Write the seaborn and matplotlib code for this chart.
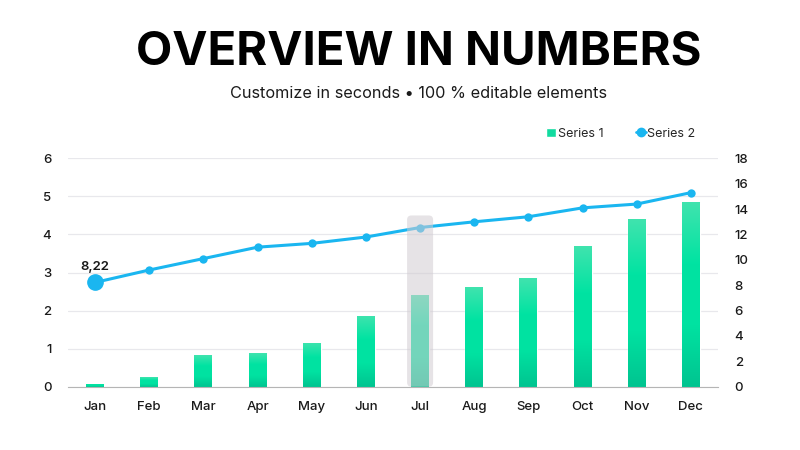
import numpy as np
import pandas as pd
import seaborn as sns
import matplotlib.pyplot as plt
from matplotlib.patches import FancyBboxPatch, Patch
from matplotlib.lines import Line2D
from matplotlib.colors import LinearSegmentedColormap

months = ["Jan", "Feb", "Mar", "Apr", "May", "Jun",
          "Jul", "Aug", "Sep", "Oct", "Nov", "Dec"]
series1 = [0.08, 0.25, 0.82, 0.89, 1.16, 1.87, 2.42, 2.61, 2.86, 3.69, 4.40, 4.85]
series2 = [8.22, 9.2, 10.1, 11.0, 11.3, 11.8, 12.55, 13.0, 13.4, 14.1, 14.4, 15.3]
left_ticks = [0, 1, 2, 3, 4, 5, 6]
right_ticks = [0, 2, 4, 6, 8, 10, 12, 14, 16, 18]
highlight = "Jul"

sns.set_style("white")
plt.rcParams['font.family'] = ['Inter', 'DejaVu Sans']

green = "#12dba0"
blue = "#1ab6f0"
txt = "#1a1a1a"

fig = plt.figure(figsize=(8, 4.5), dpi=100)
ax = fig.add_axes([0.085, 0.1407, 0.8125, 0.5073])

df = pd.DataFrame({"month": months, "s1": series1, "s2": series2})
sns.barplot(data=df, x="month", y="s1", color=green, width=0.33,
            saturation=1, ax=ax, zorder=2)

# vertical gradient inside each bar
grad = np.linspace(0, 1, 256).reshape(-1, 1)
cmap = LinearSegmentedColormap.from_list("g", ["#00c490", "#00e2a1", "#00e3a2", "#40e4ae"])
for p in ax.patches:
    x0, y0 = p.get_x(), p.get_y()
    w, h = p.get_width(), p.get_height()
    im = ax.imshow(grad, cmap=cmap, origin="lower", aspect="auto",
                   extent=[x0, x0 + w, y0, y0 + h], zorder=2.1)
    im.set_clip_path(p)
ax.set_xlim(-0.5, 11.5)
ax.set_ylim(0, 6)
ax.set_yticks(left_ticks)
ax.yaxis.grid(True, color="#e8e8ec", linewidth=0.9, zorder=0)
ax.set_axisbelow(True)
ax.set_xlabel("")
ax.set_ylabel("")
for s in ["top", "right", "left"]:
    ax.spines[s].set_visible(False)
ax.spines["bottom"].set_color("#b5b5b5")
ax.set_xticks(np.arange(12))
ax.set_xticklabels(months)
ax.set_xticks(np.arange(-0.5, 12, 1), minor=True)
ax.tick_params(axis="x", which="major", length=0, pad=10, labelsize=9.5, labelcolor=txt)
ax.tick_params(axis="x", which="minor", length=4, color="#b5b5b5", direction="out")
ax.tick_params(axis="y", length=0, pad=12, labelsize=9.5, labelcolor=txt)

ax2 = ax.twinx()
sns.lineplot(x=np.arange(12), y=series2, ax=ax2, color=blue, linewidth=2.2,
             marker="o", markersize=6, markeredgewidth=0, zorder=3)
ax2.plot([0], [series2[0]], "o", color=blue, markersize=11, zorder=4)
ax2.text(0, series2[0] + 0.75, f"{series2[0]:.2f}".replace(".", ","),
         ha="center", va="bottom", fontsize=9.5, fontweight="semibold", color=txt)
ax2.set_ylim(0, 18)
ax2.set_yticks(right_ticks)
for s in ax2.spines.values():
    s.set_visible(False)
ax2.tick_params(axis="y", length=0, pad=12, labelsize=9.5, labelcolor=txt)
ax2.set_xlim(-0.5, 11.5)

# highlighted month
hi = months.index(highlight)
rect = FancyBboxPatch((hi - 0.24, 0), 0.48, 13.5,
                      boxstyle="round,pad=0,rounding_size=0.08",
                      mutation_aspect=4.2, facecolor="#d2ccd2", alpha=0.55,
                      edgecolor="none", zorder=5, clip_on=False)
ax2.add_patch(rect)

for t in ax.get_xticklabels() + ax.get_yticklabels() + ax2.get_yticklabels():
    t.set_fontweight("medium")

handles = [Patch(facecolor=green, label="Series 1"),
           Line2D([0], [0], color=blue, marker="o", markersize=6, linewidth=2, label="Series 2")]
fig.legend(handles=handles, loc="center", bbox_to_anchor=(0.776, 0.703), ncol=2,
           frameon=False, fontsize=9, handlelength=0.8, handletextpad=0.1,
           columnspacing=2.6, handleheight=0.8)

fig.text(0.524, 0.884, "OVERVIEW IN NUMBERS", ha="center", va="center",
         fontsize=34, fontweight="bold", color="#000000")
fig.text(0.523, 0.793, "Customize in seconds \u2022 100 % editable elements",
         ha="center", va="center", fontsize=11.7, color=txt)

plt.savefig("out.png", dpi=100)
